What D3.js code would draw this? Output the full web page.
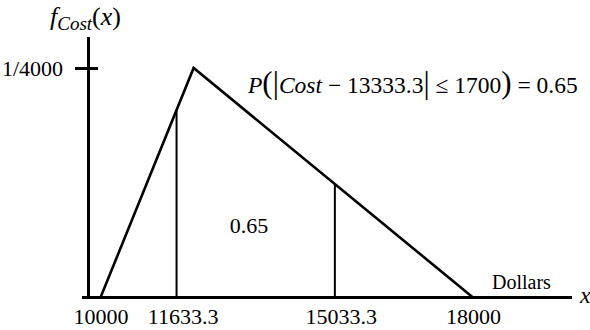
<!DOCTYPE html>
<meta charset="utf-8">
<style>
    body { margin: 0; background: #fff; }
    text { font-family: "Liberation Serif", "DejaVu Serif", serif; fill: #000; }
    .axis text { font-size: 22px; font-family: "Liberation Serif", serif; }
    .axis path { display: none; }
    .axis line { stroke: #000; stroke-width: 3; }
    .it { font-style: italic; }
</style>
<svg class="chart"></svg>
<script src="https://d3js.org/d3.v7.min.js" charset="utf-8"></script>
<script>

    // triangular distribution of cost: min, mode, max and the density there
    var costPoints = [10000, 12000, 18000],
        densityPoints = [0, 1 / 4000, 0],
        intervalEnds = [11633.3, 15033.3],
        xTickValues = [10000, 11633.3, 15033.3, 18000],
        xTickLabels = ["10000", "11633.3", "15033.3", "18000"],
        yTickValues = [1 / 4000],
        yTickLabels = ["1/4000"],
        intervalProb = "0.65";

    var width = 590,
        height = 330;

    var x = d3.scaleLinear()
        .domain([10000, 18000])
        .range([100.5, 473]);

    var y = d3.scaleLinear()
        .domain([0, 1 / 4000])
        .range([297.5, 68]);

    // pdf of the triangle, straight pieces between the corner points
    var density = d3.scaleLinear()
        .domain(costPoints)
        .range(densityPoints);

    var svg = d3.select(".chart")
        .attr("width", width)
        .attr("height", height);

    svg.append("rect")
        .attr("width", width)
        .attr("height", height)
        .attr("fill", "#fff");

    // long axis lines
    svg.append("line")
        .attr("x1", 82).attr("x2", 572)
        .attr("y1", y(0)).attr("y2", y(0))
        .attr("stroke", "#000").attr("stroke-width", 3);

    svg.append("line")
        .attr("x1", 88.5).attr("x2", 88.5)
        .attr("y1", 37).attr("y2", y(0) + 1.5)
        .attr("stroke", "#000").attr("stroke-width", 3);

    var xAxis = d3.axisBottom(x)
        .tickValues(xTickValues)
        .tickFormat((d, i) => xTickLabels[i])
        .tickSize(0)
        .tickPadding(11);

    svg.append("g")
        .attr("class", "x axis")
        .attr("transform", "translate(0," + y(0) + ")")
        .call(xAxis)
        .selectAll("text")
        .attr("dx", (d) => (d % 1 ? 6 : 0));

    var yAxis = d3.axisLeft(y)
        .tickValues(yTickValues)
        .tickFormat((d, i) => yTickLabels[i])
        .tickSize(23)
        .tickPadding(12);

    svg.append("g")
        .attr("class", "y axis")
        .attr("transform", "translate(98,0)")
        .call(yAxis);

    // the density triangle
    var line = d3.line()
        .x((d) => x(d))
        .y((d) => y(density(d)));

    svg.append("path")
        .datum(costPoints)
        .attr("d", line)
        .attr("fill", "none")
        .attr("stroke", "#000")
        .attr("stroke-width", 2.6)
        .attr("stroke-linejoin", "miter");

    // interval bounds, axis up to the curve
    svg.selectAll(".bound")
        .data(intervalEnds)
        .enter().append("line")
        .attr("class", "bound")
        .attr("x1", (d) => x(d)).attr("x2", (d) => x(d))
        .attr("y1", y(0)).attr("y2", (d) => y(density(d)))
        .attr("stroke", "#000")
        .attr("stroke-width", 2);

    svg.append("text")
        .attr("x", 249)
        .attr("y", 233)
        .attr("text-anchor", "middle")
        .style("font-size", "22px")
        .text(intervalProb);

    svg.append("text")
        .attr("x", 492)
        .attr("y", 289)
        .style("font-size", "20px")
        .text("Dollars");

    svg.append("text")
        .attr("class", "it")
        .attr("x", 580)
        .attr("y", 303)
        .style("font-size", "24px")
        .text("x");

    // y title f_Cost(x)
    var yt = svg.append("text")
        .attr("x", 50)
        .attr("y", 25)
        .style("font-size", "26px");
    yt.append("tspan").attr("class", "it").text("f");
    yt.append("tspan").attr("class", "it").attr("dy", 5).style("font-size", "19px").text("Cost");
    yt.append("tspan").attr("dy", -5).text("(");
    yt.append("tspan").attr("class", "it").text("x");
    yt.append("tspan").text(")");

    // probability statement
    var pt = svg.append("text")
        .attr("x", 248)
        .attr("y", 93)
        .style("font-size", "23.5px");
    pt.append("tspan").attr("class", "it").text("P");
    pt.append("tspan").style("font-size", "31px").text("(");
    pt.append("tspan").style("font-size", "31px").text("|");
    pt.append("tspan").attr("class", "it").text("Cost");
    pt.append("tspan").text(" \u2212 13333.3");
    pt.append("tspan").style("font-size", "31px").text("|");
    pt.append("tspan").text(" \u2264 1700");
    pt.append("tspan").style("font-size", "31px").text(")");
    pt.append("tspan").text(" = " + intervalProb);

</script>
